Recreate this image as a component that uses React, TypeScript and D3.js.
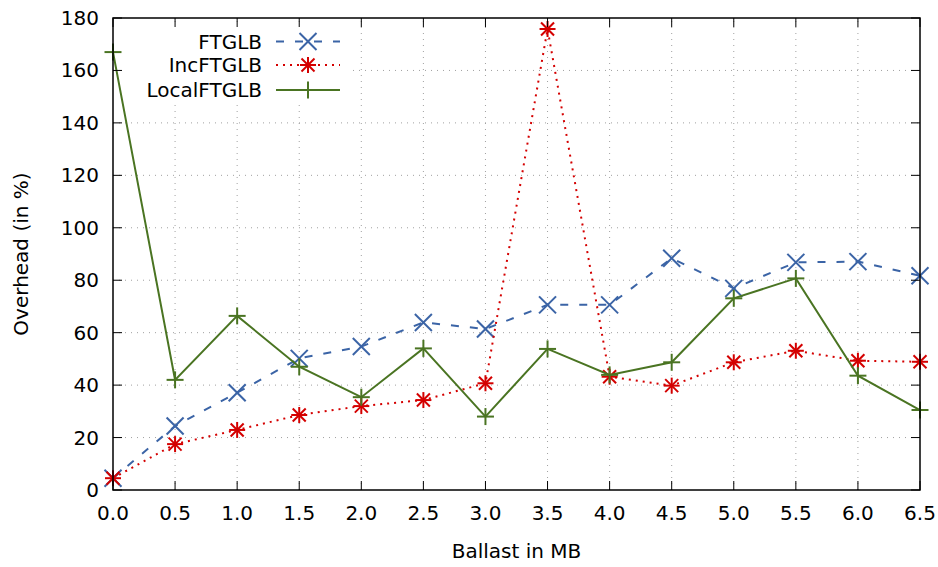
import React from "react";
import * as d3 from "d3";

const xValues = [0.0, 0.5, 1.0, 1.5, 2.0, 2.5, 3.0, 3.5, 4.0, 4.5, 5.0, 5.5, 6.0, 6.5];
const ftglb = [4.5, 24.4, 37.1, 50.2, 54.7, 63.9, 61.4, 70.6, 70.6, 88.4, 76.9, 86.8, 87.1, 81.7];
const incFtglb = [4.5, 17.5, 22.9, 28.6, 32.0, 34.3, 40.7, 175.8, 43.2, 39.8, 48.7, 53.1, 49.3, 48.9];
const localFtglb = [167.0, 42.0, 66.4, 47.0, 35.4, 54.0, 28.0, 53.8, 43.9, 48.7, 73.1, 80.7, 43.6, 30.5];
const xTickLabels = ["0.0", "0.5", "1.0", "1.5", "2.0", "2.5", "3.0", "3.5", "4.0", "4.5", "5.0", "5.5", "6.0", "6.5"];
const yTicks = [0, 20, 40, 60, 80, 100, 120, 140, 160, 180];
const seriesNames = ["FTGLB", "IncFTGLB", "LocalFTGLB"];

const W = 938, H = 567;
const L = 113, R = 920, T = 18, B = 490;
const FONT = "'DejaVu Sans', sans-serif";

const colors = ["#3b64a6", "#d40000", "#4a7422"];

function Marker({ kind, x, y, color }: { kind: string; x: number; y: number; color: string }) {
  const sw = 2;
  if (kind === "x") {
    const s = 8.5;
    return (
      <g stroke={color} strokeWidth={sw}>
        <line x1={x - s} y1={y - s} x2={x + s} y2={y + s} />
        <line x1={x - s} y1={y + s} x2={x + s} y2={y - s} />
      </g>
    );
  }
  if (kind === "star") {
    const s = 8;
    const d = 6.5;
    return (
      <g stroke={color} strokeWidth={sw}>
        <line x1={x - s} y1={y} x2={x + s} y2={y} />
        <line x1={x} y1={y - s} x2={x} y2={y + s} />
        <line x1={x - d} y1={y - d} x2={x + d} y2={y + d} />
        <line x1={x - d} y1={y + d} x2={x + d} y2={y - d} />
      </g>
    );
  }
  const s = 8.5;
  return (
    <g stroke={color} strokeWidth={sw}>
      <line x1={x - s} y1={y} x2={x + s} y2={y} />
      <line x1={x} y1={y - s} x2={x} y2={y + s} />
    </g>
  );
}

export default function App() {
  const x = d3.scaleLinear().domain([0, 6.5]).range([L, R]);
  const y = d3.scaleLinear().domain([0, 180]).range([B, T]);
  const line = d3
    .line<[number, number]>()
    .x((d) => x(d[0]))
    .y((d) => y(d[1]));

  const series = [ftglb, incFtglb, localFtglb];
  const kinds = ["x", "star", "plus"];
  const dashes = ["8,11", "2,5", undefined];

  const legendRows = [41.5, 65, 90];
  const legendTextX = 262;
  const lsx1 = 276, lsx2 = 340, lmx = 308;

  return (
    <svg width={W} height={H} style={{ position: "absolute", left: 0, top: 0, background: "#fff" }}>
      <rect x={0} y={0} width={W} height={H} fill="#fff" />
      {/* grid */}
      <g stroke="#a0a0a0" strokeWidth={1} strokeDasharray="1,5">
        {xValues.slice(1, -1).map((v) => (
          <line key={"gx" + v} x1={x(v)} x2={x(v)} y1={B} y2={T} />
        ))}
        {yTicks.slice(1, -1).map((v) => (
          <line key={"gy" + v} x1={L} x2={R} y1={y(v)} y2={y(v)} />
        ))}
      </g>
      {/* legend background */}
      <rect x={125} y={27} width={225} height={77} fill="#fff" />
      {/* series */}
      {series.map((s, i) => {
        const pts = xValues.map((v, j) => [v, s[j]] as [number, number]);
        return (
          <g key={"s" + i}>
            <path d={line(pts) || ""} fill="none" stroke={colors[i]} strokeWidth={2} strokeDasharray={dashes[i]} />
            {pts.map((p, j) => (
              <Marker key={j} kind={kinds[i]} x={x(p[0])} y={y(p[1])} color={colors[i]} />
            ))}
          </g>
        );
      })}
      {/* border */}
      <rect x={L} y={T} width={R - L} height={B - T} fill="none" stroke="#000" strokeWidth={1.5} />
      {/* ticks */}
      <g stroke="#000" strokeWidth={1}>
        {xValues.map((v) => (
          <g key={"tx" + v}>
            <line x1={x(v)} x2={x(v)} y1={B} y2={B - 9} />
            <line x1={x(v)} x2={x(v)} y1={T} y2={T + 9} />
          </g>
        ))}
        {yTicks.map((v) => (
          <g key={"ty" + v}>
            <line x1={L} x2={L + 9} y1={y(v)} y2={y(v)} />
            <line x1={R} x2={R - 9} y1={y(v)} y2={y(v)} />
          </g>
        ))}
      </g>
      {/* tick labels */}
      <g fontFamily={FONT} fontSize={20} fill="#000">
        {xValues.map((v, i) => (
          <text key={"lx" + v} x={x(v)} y={520} textAnchor="middle">
            {xTickLabels[i]}
          </text>
        ))}
        {yTicks.map((v) => (
          <text key={"ly" + v} x={99} y={y(v) + 7} textAnchor="end">
            {v}
          </text>
        ))}
        <text x={(L + R) / 2} y={558} textAnchor="middle">Ballast in MB</text>
        <text transform={`translate(28, ${(T + B) / 2}) rotate(-90)`} textAnchor="middle">Overhead (in %)</text>
      </g>
      {/* legend */}
      <g fontFamily={FONT} fontSize={20}>
        {seriesNames.map((n, i) => (
          <g key={"lg" + i}>
            <text x={legendTextX} y={legendRows[i] + 7} textAnchor="end" fill="#000">{n}</text>
            <line x1={lsx1} x2={lsx2} y1={legendRows[i]} y2={legendRows[i]} stroke={colors[i]} strokeWidth={2} strokeDasharray={dashes[i]} />
            <Marker kind={kinds[i]} x={lmx} y={legendRows[i]} color={colors[i]} />
          </g>
        ))}
      </g>
    </svg>
  );
}
